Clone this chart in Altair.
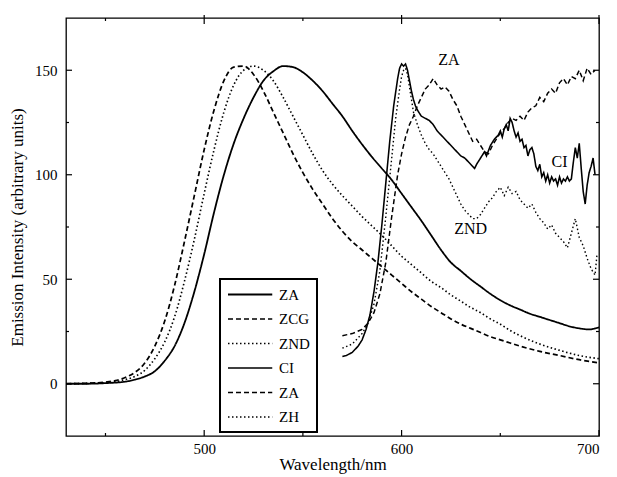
import altair as alt
import pandas as pd

# ---------------- data ----------------
# left emission curves
wl_za = [430, 440, 450, 460, 465, 470, 475, 480, 485, 490, 495, 500, 505, 510, 515, 520, 525, 530, 535, 540,
         545, 550, 555, 560, 565, 570, 575, 580, 585, 590, 595, 600, 605, 610, 615, 620, 625, 630, 635, 640,
         645, 650, 655, 660, 665, 670, 675, 680, 685, 690, 695, 700]
i_za = [0, 0, 0.3, 1, 2, 3.5, 6, 11, 18, 29, 44, 62, 82, 100, 115, 127, 137, 145, 149.5, 152,
        151.5, 149, 145, 140, 134, 128, 121, 114.5, 108.5, 103, 97.5, 91, 84.5, 78, 71, 64, 58, 54, 50, 46.5,
        43, 40, 37.5, 35.5, 33.5, 32, 30.5, 29, 27.5, 26.5, 26, 27]

wl_zcg = [430, 440, 450, 455, 460, 465, 470, 475, 480, 485, 490, 495, 500, 505, 510, 515, 520, 525, 530, 535,
          540, 545, 550, 555, 560, 565, 570, 575, 580, 585, 590, 595, 600, 605, 610, 615, 620, 625, 630, 635,
          640, 645, 650, 655, 660, 670, 680, 690, 700]
i_zcg = [0, 0.2, 0.8, 1.5, 3, 5.5, 10, 18, 30, 47, 68, 90, 112, 131, 145, 151.5, 152, 148, 140, 130,
         120, 110, 101, 93, 86, 79, 73, 68, 64, 60, 56, 52, 48, 44, 40.5, 37, 34, 31, 28.5, 26.5,
         24.5, 22.5, 21, 19.5, 18, 15.5, 13.5, 11.5, 10]

wl_znd = [430, 450, 460, 465, 470, 475, 480, 485, 490, 495, 500, 505, 510, 515, 520, 525, 530, 535, 540, 545,
          550, 555, 560, 565, 570, 575, 580, 585, 590, 595, 600, 605, 610, 615, 620, 625, 630, 635, 640, 645,
          650, 655, 660, 670, 680, 690, 700]
i_znd = [0, 0.5, 2, 3.5, 6.5, 12, 20, 32, 49, 69, 91, 112, 130, 143, 150, 152, 150, 145, 137, 128,
         119, 110, 102, 95.5, 90, 85, 80, 75.5, 71, 66, 61, 57, 53, 49, 46, 42.5, 39.5, 36.5, 34, 31,
         28.5, 25.5, 23, 19, 16, 13.5, 12]

# right curves
wl_ci = [570, 572, 575, 578, 580, 582, 584, 586, 588, 590, 592, 594, 596, 598, 599, 600, 601, 602, 603, 604,
         605, 606, 607, 608, 610, 612, 614, 616, 618, 620, 622, 624, 626, 628, 630, 632, 634, 636, 637, 638,
         640, 642, 643, 645, 647, 649, 650, 651, 652, 653, 654, 655, 656, 657, 658, 659, 660, 661, 662, 663,
         664, 665, 666, 667, 668, 669, 670, 671, 672, 673, 674, 675, 676, 677, 678, 679, 680, 681, 682, 683,
         684, 685, 686, 687, 688, 689, 690, 691, 692, 693, 694, 695, 696, 697, 698]
i_ci = [13, 13.5, 15, 18, 21, 26, 33, 44, 58, 76, 96, 116, 133, 146, 151, 153, 152, 153, 150, 145,
        140, 136, 133, 131, 128, 127, 126, 124, 121, 119, 117, 115, 113, 111, 109, 108, 106, 104, 103, 105,
        108, 111, 109, 114, 117, 119, 121, 118, 122, 124, 121, 127, 125, 121, 118, 120, 116, 117, 113, 114,
        109, 112, 113, 110, 104, 102, 105, 99, 101, 97, 100, 96, 99, 97, 98, 95, 99, 96, 98, 97,
        99, 97, 98, 106, 113, 108, 115, 103, 92, 86, 95, 101, 104, 108, 100]

wl_za2 = [570, 575, 580, 583, 586, 589, 592, 595, 598, 600, 602, 604, 606, 608, 610, 612, 614, 616, 618, 620,
          622, 624, 626, 628, 630, 632, 634, 636, 638, 640, 642, 644, 646, 648, 650, 652, 654, 656, 658, 660,
          662, 664, 666, 668, 670, 672, 674, 676, 678, 680, 682, 684, 686, 688, 690, 692, 694, 696, 698]
i_za2 = [23, 24, 26, 29, 34, 43, 58, 80, 100, 110, 118, 124, 128, 133, 137, 141, 143, 146, 143, 141,
         142, 140, 136, 133, 128, 124, 120, 116, 117, 114, 111, 110, 114, 117, 120, 122, 125, 127, 126, 128,
         126, 130, 132, 133, 137, 135, 139, 141, 139, 144, 146, 143, 147, 146, 150, 145, 151, 148, 150]

wl_zh = [570, 575, 580, 583, 586, 589, 592, 595, 597, 599, 600, 601, 602, 603, 604, 605, 606, 608, 610, 612,
         614, 616, 618, 620, 622, 624, 626, 628, 630, 632, 634, 636, 638, 640, 642, 644, 646, 648, 650, 652,
         654, 656, 658, 660, 662, 664, 666, 668, 670, 672, 674, 676, 678, 680, 682, 684, 686, 688, 690, 692,
         694, 696, 698, 699]
i_zh = [17, 19, 24, 29, 38, 54, 80, 108, 127, 141, 147, 150, 151, 148, 142, 136, 130, 124, 119, 115,
        112, 110, 107, 104, 101, 98, 94, 90, 86, 83, 81, 79, 79, 81, 84, 87, 89, 92, 94, 90,
        94, 91, 92, 88, 86, 84, 86, 82, 79, 77, 74, 76, 72, 70, 68, 65, 72, 79, 70, 66,
        60, 55, 52, 62]

series_names = ["ZA", "ZCG", "ZND", "CI", "ZA ", "ZH"]
smooth_names = ["ZA", "ZCG", "ZND"]
series_data = [(wl_za, i_za), (wl_zcg, i_zcg), (wl_znd, i_znd),
               (wl_ci, i_ci), (wl_za2, i_za2), (wl_zh, i_zh)]

x_major = [500, 600, 700]
x_minor = [450, 550, 650]
y_major = [0, 50, 100, 150]
y_minor = [25, 75, 125]

ann_text = ["ZA", "CI", "ZND"]
ann_wl = [624, 680, 635]
ann_i = [155, 106, 74]

# ---------------- build tables ----------------
rows = []
for name, (xs, ys) in zip(series_names, series_data):
    for k, (x, y) in enumerate(zip(xs, ys)):
        rows.append({"series": name, "wl": x, "I": y, "order": k})
df = pd.DataFrame(rows)
df_smooth = df[df.series.isin(smooth_names)]
df_rough = df[~df.series.isin(smooth_names)]

xmaj = pd.DataFrame({"v": x_major})
xmin = pd.DataFrame({"v": x_minor})
ymaj = pd.DataFrame({"v": y_major})
ymin = pd.DataFrame({"v": y_minor})
ann = pd.DataFrame({"t": ann_text, "wl": ann_wl, "I": ann_i})

W, H = 533, 418
FONT = "Liberation Serif"

xscale = alt.Scale(domain=[430, 700], nice=False, zero=False)
yscale = alt.Scale(domain=[-25, 175], nice=False, zero=False)

dash_range = [[1, 0], [5, 3], [1.5, 2.5], [1, 0], [5, 3], [1.5, 2.5]]
width_range = [1.8, 1.4, 1.4, 1.8, 1.4, 1.4]

x_enc = alt.X("wl:Q", scale=xscale,
              axis=alt.Axis(values=x_major, title="Wavelength/nm", ticks=False, domain=False, grid=False,
                            labelFont=FONT, labelFontSize=15, labelColor="black", labelPadding=5,
                            titleFont=FONT, titleFontSize=17, titleFontWeight="normal", titleColor="black",
                            titlePadding=0))
y_enc = alt.Y("I:Q", scale=yscale,
              axis=alt.Axis(values=y_major, title="Emission Intensity (arbitrary units)", ticks=False,
                            domain=False, grid=False, labelFont=FONT, labelFontSize=15, labelColor="black",
                            labelPadding=9, titleFont=FONT, titleFontSize=17, titleFontWeight="normal",
                            titleColor="black", titlePadding=8))

legend = alt.Legend(title=None, orient="none", legendX=154, legendY=261, strokeColor="black",
                    fillColor="white", padding=7, symbolType="M-1,0H4.9", symbolSize=225,
                    symbolStrokeColor="black", symbolStrokeWidth=1.5, symbolFillColor="transparent",
                    labelFont=FONT, labelFontSize=15, labelColor="black", labelOffset=35, rowPadding=7.5)

dash_enc = alt.StrokeDash("series:N", scale=alt.Scale(domain=series_names, range=dash_range),
                          legend=legend, sort=series_names)
width_enc = alt.StrokeWidth("series:N", scale=alt.Scale(domain=series_names, range=width_range),
                            legend=None)

smooth = alt.Chart(df_smooth).mark_line(color="black", interpolate="monotone").encode(
    x=x_enc, y=y_enc, strokeDash=dash_enc, strokeWidth=width_enc, detail="series:N", order="order:Q")
rough = alt.Chart(df_rough).mark_line(color="black").encode(
    x=x_enc, y=y_enc, strokeDash=dash_enc, strokeWidth=width_enc, detail="series:N", order="order:Q")

texts = alt.Chart(ann).mark_text(font=FONT, fontSize=16, color="black").encode(
    x=alt.X("wl:Q", scale=xscale), y=alt.Y("I:Q", scale=yscale), text="t:N")

tick = dict(color="black", strokeWidth=1.2)
bx_maj = alt.Chart(xmaj).mark_rule(**tick).encode(x=alt.X("v:Q", scale=xscale), y=alt.value(H), y2=alt.value(H - 6))
bx_min = alt.Chart(xmin).mark_rule(**tick).encode(x=alt.X("v:Q", scale=xscale), y=alt.value(H), y2=alt.value(H - 3))
tx_maj = alt.Chart(xmaj).mark_rule(**tick).encode(x=alt.X("v:Q", scale=xscale), y=alt.value(-3), y2=alt.value(6))
tx_min = alt.Chart(xmin).mark_rule(**tick).encode(x=alt.X("v:Q", scale=xscale), y=alt.value(0), y2=alt.value(3))
ly_maj = alt.Chart(ymaj).mark_rule(**tick).encode(y=alt.Y("v:Q", scale=yscale), x=alt.value(0), x2=alt.value(6))
ly_min = alt.Chart(ymin).mark_rule(**tick).encode(y=alt.Y("v:Q", scale=yscale), x=alt.value(0), x2=alt.value(3))
ry_maj = alt.Chart(ymaj).mark_rule(**tick).encode(y=alt.Y("v:Q", scale=yscale), x=alt.value(W), x2=alt.value(W - 6))
ry_min = alt.Chart(ymin).mark_rule(**tick).encode(y=alt.Y("v:Q", scale=yscale), x=alt.value(W), x2=alt.value(W - 3))

chart = alt.layer(smooth, rough, texts, bx_maj, bx_min, tx_maj, tx_min, ly_maj, ly_min, ry_maj, ry_min).properties(
    width=W, height=H,
    autosize=alt.AutoSizeParams(type="none"),
    padding={"left": 58, "top": 10, "right": 10, "bottom": 41},
).configure_view(stroke="black", strokeWidth=1.3).configure_legend(strokeWidth=2)

chart.save("out.html", embed_options={"renderer": "svg", "actions": False})
